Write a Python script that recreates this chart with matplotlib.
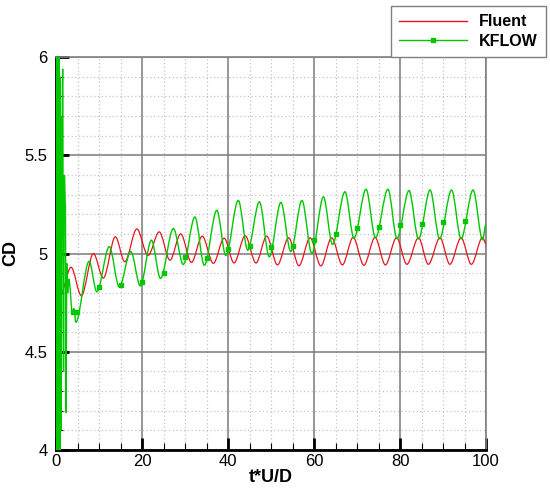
import matplotlib
matplotlib.use('Agg')
import matplotlib.pyplot as plt
from matplotlib.path import Path
from matplotlib.patches import PathPatch
from matplotlib.lines import Line2D
from matplotlib.ticker import MultipleLocator

plt.rcParams['font.family'] = ['Liberation Sans', 'DejaVu Sans']

# --- data (peaks / troughs of each history) ---
fluent_t = [0.3, 1.0, 3.5, 5.9, 8.7, 11.0, 13.8, 16.0, 18.8, 21.4, 24.0, 26.5,
            29.0, 31.5, 34.0, 36.6, 39.1, 41.4, 44.0, 46.5, 49.0, 51.5, 54.1,
            56.5, 59.1, 61.6, 64.1, 66.6, 69.1, 71.6, 74.2, 76.6, 79.2, 81.6,
            84.3, 86.6, 89.3, 91.6, 94.2, 96.6, 99.2, 100.0]
fluent_cd = [4.82, 4.79, 4.93, 4.785, 5.0, 4.875, 5.085, 4.958, 5.125, 4.99,
             5.11, 4.966, 5.10, 4.955, 5.088, 4.95, 5.078, 4.952, 5.09, 4.952,
             5.088, 4.942, 5.08, 4.938, 5.08, 4.937, 5.08, 4.942, 5.082, 4.94,
             5.082, 4.942, 5.08, 4.945, 5.08, 4.945, 5.08, 4.945, 5.08, 4.945,
             5.082, 5.05]

kflow_t = [0.0, 0.1, 0.2, 0.3, 0.4, 0.5, 0.6, 0.7, 0.8, 0.9, 1.0, 1.1, 1.2,
           1.35, 1.55, 1.75, 1.95, 2.2, 2.35, 2.5, 2.7, 3.0, 3.8, 4.2, 4.6,
           7.7, 9.5, 12.4, 14.7, 17.4, 19.6, 22.2, 24.3, 27.3, 29.6, 32.3,
           34.5, 37.4, 39.5, 42.4, 44.6, 47.3, 49.6, 52.3, 54.6, 57.2, 59.5,
           62.2, 64.3, 67.2, 69.3, 72.1, 74.3, 77.2, 79.3, 82.1, 84.3, 87.0,
           89.2, 92.0, 94.2, 97.0, 99.2, 100.0]
kflow_cd = [4.80, 6.3, 3.8, 6.3, 3.8, 6.2, 3.9, 6.1, 3.95, 5.9, 4.0, 5.7, 4.1,
            5.3, 5.94, 4.4, 5.4, 5.24, 4.19, 4.95, 4.80, 4.87, 4.70, 4.72,
            4.65, 4.96, 4.805, 5.035, 4.83, 5.01, 4.835, 5.068, 4.873, 5.127,
            4.944, 5.186, 4.94, 5.22, 4.99, 5.27, 5.017, 5.263, 4.983, 5.26,
            5.01, 5.27, 5.0, 5.288, 5.046, 5.314, 5.078, 5.327, 5.08, 5.327,
            5.076, 5.32, 5.074, 5.323, 5.075, 5.323, 5.075, 5.323, 5.07, 5.15]

# KFLOW symbols
mark_t = [3.9, 4.8, 10, 15, 19.9, 25, 30, 35, 40, 45, 50, 55, 60, 65, 70, 75,
          80, 85, 90, 95]
mark_cd = [4.70, 4.70, 4.83, 4.84, 4.855, 4.90, 4.98, 4.975, 5.025, 5.04,
           5.035, 5.04, 5.07, 5.10, 5.128, 5.136, 5.145, 5.149, 5.159, 5.167]

RED = '#e8141c'
GREEN = '#00c800'


def smooth_path(t, cd):
    # cubic segments between extrema, flat at each extremum
    verts = [(t[0], cd[0])]
    codes = [Path.MOVETO]
    for i in range(1, len(t)):
        dt = t[i] - t[i - 1]
        verts += [(t[i - 1] + dt / 3, cd[i - 1]), (t[i] - dt / 3, cd[i]), (t[i], cd[i])]
        codes += [Path.CURVE4] * 3
    return Path(verts, codes)


fig = plt.figure(figsize=(5.5, 4.88), dpi=100)
ax = fig.add_axes([56 / 550, 38 / 488, 430 / 550, 393 / 488])

ax.add_patch(PathPatch(smooth_path(fluent_t, fluent_cd), fill=False,
                       edgecolor=RED, lw=0.9, zorder=3))
ax.add_patch(PathPatch(smooth_path(kflow_t, kflow_cd), fill=False,
                       edgecolor=GREEN, lw=1.0, zorder=4))
ax.plot(mark_t, mark_cd, ls='none', marker='s', ms=3, color=GREEN, zorder=5)

ax.set_xlim(0, 100)
ax.set_ylim(4, 6)
ax.set_xticks([0, 20, 40, 60, 80, 100])
ax.set_yticks([4, 4.5, 5, 5.5, 6])
ax.set_yticklabels(['4', '4.5', '5', '5.5', '6'])
ax.xaxis.set_minor_locator(MultipleLocator(5))
ax.yaxis.set_minor_locator(MultipleLocator(0.1))

ax.set_axisbelow(True)
ax.grid(which='major', color='#7a7a7a', lw=1.1, ls='-')
ax.grid(which='minor', color='#c4c4c4', lw=0.9, ls=(0, (1, 2)))

ax.tick_params(which='major', direction='in', length=9, width=2, labelsize=12,
               top=False, right=False)
ax.tick_params(axis='x', which='major', pad=3)
ax.tick_params(axis='y', which='major', pad=6)
ax.tick_params(which='minor', direction='in', length=5, width=0.8,
               top=False, right=False)

for side in ['left', 'bottom']:
    ax.spines[side].set_linewidth(2)
    ax.spines[side].set_color('black')
for side in ['top', 'right']:
    ax.spines[side].set_linewidth(1.2)
    ax.spines[side].set_color('#808080')

ax.set_xlabel('t*U/D', fontsize=13, fontweight='bold', labelpad=0)
ax.set_ylabel('CD', fontsize=13, fontweight='bold', labelpad=4)

handles = [Line2D([], [], color=RED, lw=1.0),
           Line2D([], [], color=GREEN, lw=1.0, marker='s', ms=3)]
leg = fig.legend(handles, ['Fluent', 'KFLOW'], loc='lower right',
                 bbox_to_anchor=(546 / 550, 431 / 488), borderaxespad=0,
                 prop={'weight': 'bold', 'size': 11.5}, handlelength=4.3,
                 handletextpad=0.75, labelspacing=0.3, borderpad=0.5,
                 fancybox=False, framealpha=1)
leg.get_frame().set_edgecolor('#808080')
leg.get_frame().set_linewidth(1.0)

fig.savefig('out.png', dpi=100)
